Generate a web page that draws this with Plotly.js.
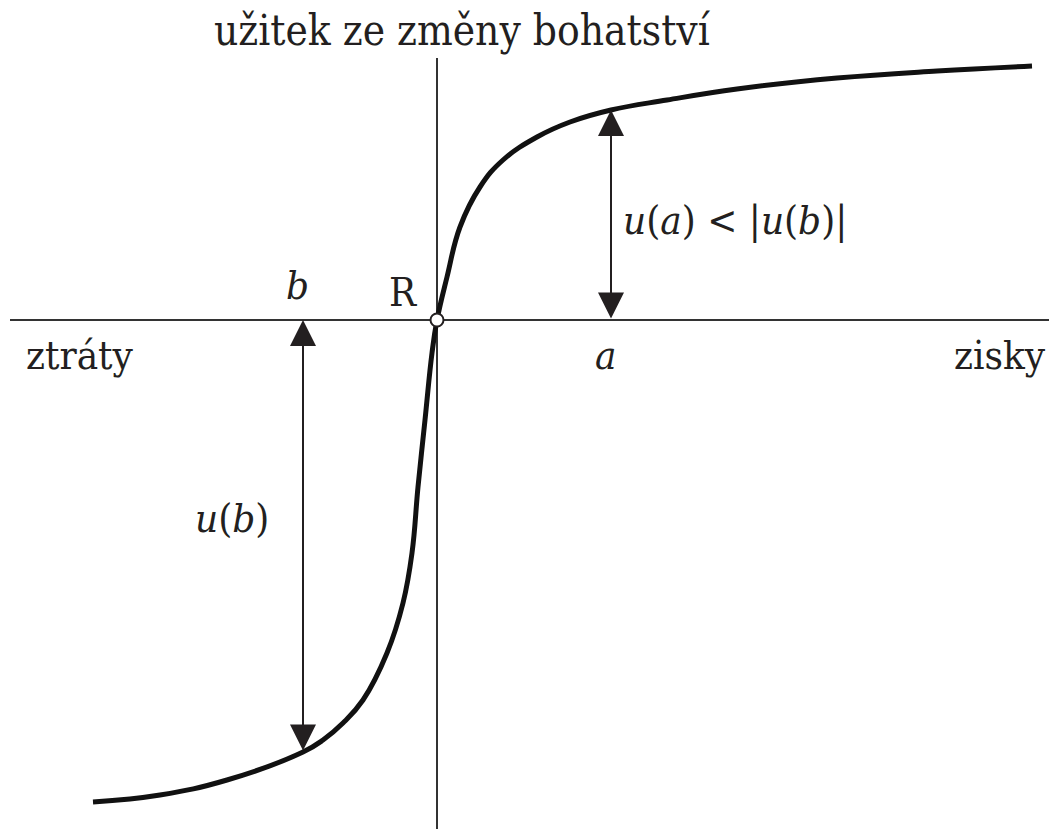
<!DOCTYPE html>
<html>
<head>
<meta charset="utf-8">
<script src="https://cdn.plot.ly/plotly-3.0.1.min.js"></script>
<style>
html, body { margin: 0; padding: 0; background: #fff; }
#chart { width: 1049px; height: 829px; }
</style>
</head>
<body>
<div id="chart"></div>
<script>
// value function (prospect theory): change of wealth vs. utility, reference point R at 0
var wealthChange = [-3.44, -2.77, -2.10, -1.34, -1.14, -0.94, -0.74, -0.50, -0.34, -0.25, -0.19, -0.12, -0.05, 0,
                    0.10, 0.23, 0.43, 0.66, 1.00, 1.33, 1.74, 2.30, 3.00, 4.00, 5.00, 5.95];
var utility = [-4.82, -4.75, -4.60, -4.32, -4.20, -4.03, -3.80, -3.33, -2.83, -2.33, -1.67, -1.00, -0.33, 0,
               0.43, 0.93, 1.33, 1.60, 1.83, 1.98, 2.10, 2.20, 2.31, 2.42, 2.49, 2.54];

// the gain a and the loss b marked on the axis
var gainA = 1.74;
var lossB = -1.34;

// extents of the drawn axes
var axisX = [-4.27, 6.12];
var axisY = [-5.09, 2.62];

function utilityAt(v) {
  return utility[wealthChange.indexOf(v)];
}
var uA = utilityAt(gainA);
var uB = utilityAt(lossB);

var ink = "#231f20";
var serif = "DejaVu Serif Condensed, DejaVu Serif";

var curve = {
  x: wealthChange,
  y: utility,
  mode: "lines",
  line: {color: "#111", width: 5, shape: "spline", smoothing: 1.2},
  hoverinfo: "skip"
};

var refPoint = {
  x: [0],
  y: [0],
  mode: "markers",
  marker: {symbol: "circle", size: 13, color: "#fff", line: {color: ink, width: 2}},
  hoverinfo: "skip"
};

var data = [curve, refPoint];

function label(x, y, text, size) {
  return {
    x: x, y: y, xref: "x", yref: "y", text: text, showarrow: false,
    xanchor: "center", yanchor: "middle",
    font: {family: serif, size: size || 40, color: ink}
  };
}

function doubleArrow(x, y0, y1) {
  return {
    x: x, y: y1, ax: x, ay: y0, xref: "x", yref: "y", axref: "x", ayref: "y",
    text: "", showarrow: true, arrowside: "end+start",
    arrowhead: 2, startarrowhead: 2, arrowsize: 2.6, startarrowsize: 2.6,
    arrowwidth: 2, arrowcolor: ink, standoff: 0, startstandoff: 0
  };
}

var layout = {
  width: 1049,
  height: 829,
  margin: {l: 0, r: 0, t: 0, b: 0},
  paper_bgcolor: "#fff",
  plot_bgcolor: "#fff",
  showlegend: false,
  xaxis: {range: [-4.37, 6.12], visible: false, fixedrange: true},
  yaxis: {range: [-5.09, 3.20], visible: false, fixedrange: true},
  shapes: [
    {type: "line", xref: "x", yref: "y", x0: axisX[0], x1: axisX[1], y0: 0, y1: 0,
     line: {color: "#333", width: 2}, layer: "below"},
    {type: "line", xref: "x", yref: "y", x0: 0, x1: 0, y0: axisY[0], y1: axisY[1],
     line: {color: "#333", width: 2}, layer: "below"}
  ],
  annotations: [
    label(0.25, 2.90, "užitek ze změny bohatství", 42),
    label(-3.57, -0.35, "ztráty"),
    label(5.63, -0.35, "zisky"),
    label(-0.34, 0.28, "R"),
    label(lossB - 0.06, 0.35, "<i>b</i>"),
    label(gainA - 0.06, -0.35, "<i>a</i>"),
    label(2.98, 1.00, "<i>u</i>(<i>a</i>) &lt; |<i>u</i>(<i>b</i>)|"),
    label(-2.05, -1.98, "<i>u</i>(<i>b</i>)"),
    doubleArrow(gainA, 0, uA),
    doubleArrow(lossB, uB, 0)
  ]
};

Plotly.newPlot("chart", data, layout, {displayModeBar: false, staticPlot: true});
</script>
</body>
</html>
